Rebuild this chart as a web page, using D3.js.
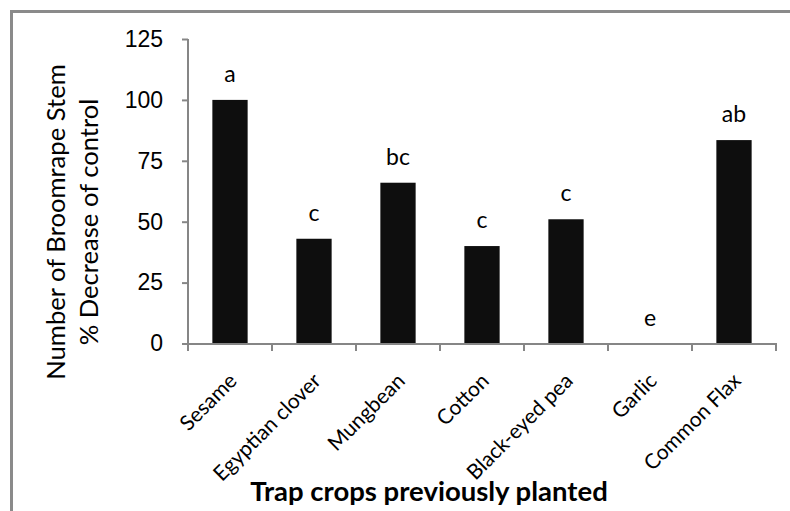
<!DOCTYPE html>
<html><head><meta charset="utf-8">
<script src="https://cdn.jsdelivr.net/npm/d3@7"></script>
<style>body{margin:0;background:#fff}svg{display:block}</style>
</head><body>
<svg id="chart" width="790" height="511"></svg>
<script>
const categories = ["Sesame","Egyptian clover","Mungbean","Cotton","Black-eyed pea","Garlic","Common Flax"];
const values = [100, 43, 66, 40, 51, 0, 83.5];
const letters = ["a","c","bc","c","c","e","ab"];
const yTicks = [0,25,50,75,100,125];

const svg = d3.select("#chart");
const axisColor = "#868686";

// outer border (cut off at right/bottom)
svg.append("path").attr("d","M11.5,520V11.5H800")
  .attr("fill","none").attr("stroke","#8a8a8a").attr("stroke-width",3);

const x = d3.scaleBand().domain(categories).range([188,776]).paddingInner(0.58).paddingOuter(0.29);
const y = d3.scaleLinear().domain([0,125]).range([343.5,39]);

// bars
svg.selectAll("rect.bar").data(categories).join("rect").attr("class","bar")
  .attr("x", d=>x(d)).attr("width", x.bandwidth())
  .attr("y", (d,i)=>y(values[i])).attr("height",(d,i)=>y(0)-y(values[i]))
  .attr("fill","#0e0e0e");

// y axis
const yAxis = d3.axisLeft(y).tickValues(yTicks).tickSize(6).tickPadding(19);
const gy = svg.append("g").attr("transform","translate(188,0)").call(yAxis);
gy.select(".domain").attr("stroke",axisColor).attr("stroke-width",2).attr("d","M0,39V344");
gy.selectAll(".tick line").attr("stroke",axisColor).attr("stroke-width",2);
gy.selectAll(".tick text").attr("fill","#000").style("font-family","'Liberation Sans',Arial,sans-serif").style("font-size","23px");

// x axis
const step = x.step();
const boundaries = d3.range(categories.length+1).map(i=>188+i*step);
svg.append("line").attr("x1",182).attr("x2",777).attr("y1",344).attr("y2",344)
  .attr("stroke",axisColor).attr("stroke-width",2);
svg.selectAll("line.xt").data(boundaries).join("line").attr("class","xt")
  .attr("x1",d=>d).attr("x2",d=>d).attr("y1",344).attr("y2",351)
  .attr("stroke",axisColor).attr("stroke-width",2);

// category labels
svg.selectAll("text.cat").data(categories).join("text").attr("class","cat")
  .attr("transform", d=>`translate(${x(d)+x.bandwidth()/2+3},${377}) rotate(-45)`)
  .attr("text-anchor","end").attr("dy","0.35em")
  .style("font-family","Lato,'Open Sans',sans-serif").style("font-size","21px")
  .text(d=>d);

// significance letters
svg.selectAll("text.let").data(categories).join("text").attr("class","let")
  .attr("x", d=>x(d)+x.bandwidth()/2)
  .attr("y", (d,i)=>y(values[i]) - 26)
  .attr("dy","0.35em").attr("text-anchor","middle")
  .style("font-family","Lato,'Open Sans',sans-serif").style("font-size","23px")
  .text((d,i)=>letters[i]);

// y title
const yt = svg.append("text").attr("transform","translate(65,222) rotate(-90)")
  .attr("text-anchor","middle")
  .style("font-family","Lato,'Open Sans',sans-serif").style("font-size","25.6px");
yt.append("tspan").attr("x",0).attr("y",0).text("Number of Broomrape Stem");
yt.append("tspan").attr("x",0).attr("y",33).text("% Decrease of control");

// x title
svg.append("text").attr("x",429).attr("y",501).attr("text-anchor","middle")
  .style("font-family","Lato,'Open Sans',sans-serif").style("font-size","27.5px").style("font-weight","bold")
  .text("Trap crops previously planted");
</script>
</body></html>
